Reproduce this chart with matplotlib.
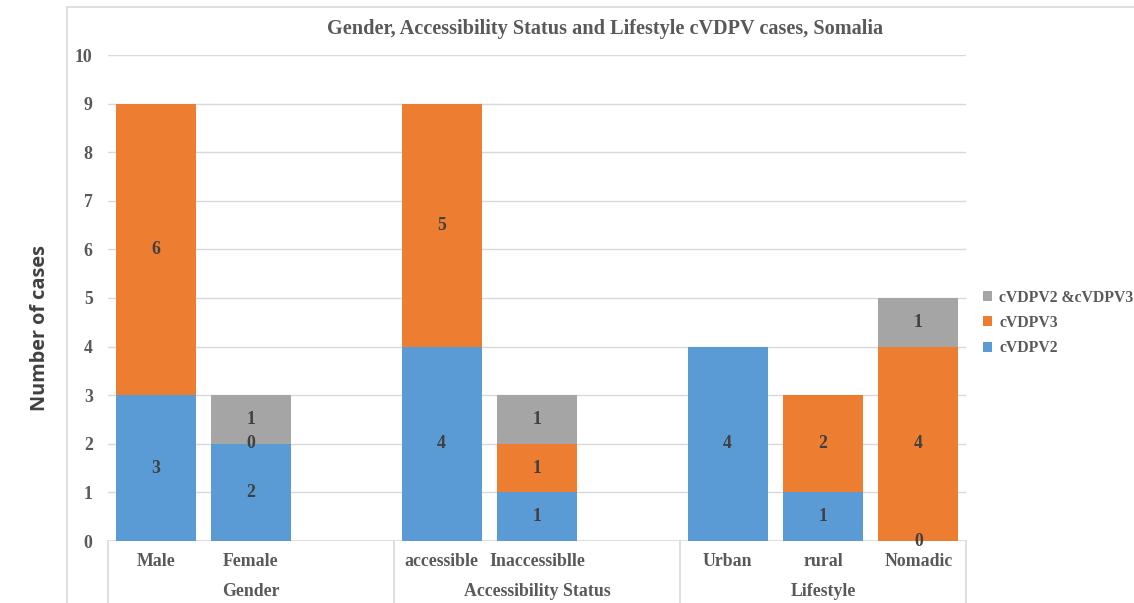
import matplotlib
matplotlib.use("Agg")
import matplotlib.pyplot as plt
from matplotlib.patches import Rectangle
from matplotlib.lines import Line2D
import matplotlib.transforms as mtrans
import numpy as np

# ---- data ----
groups = ["Gender", "Accessibility Status", "Lifestyle"]
categories = ["Male", "Female", "", "accessible", "Inaccessiblle", "", "Urban", "rural", "Nomadic"]
cvdpv2 = [3, 2, None, 4, 1, None, 4, 1, 0]
cvdpv3 = [6, 0, None, 5, 1, None, None, 2, 4]
cvdpv23 = [None, 1, None, None, 1, None, None, None, 1]
series_names = ["cVDPV2", "cVDPV3", "cVDPV2 &cVDPV3"]
colors = ["#5B9BD5", "#ED7D31", "#A5A5A5"]
title = "Gender, Accessibility Status and Lifestyle cVDPV cases, Somalia"
ylabel = "Number of cases"

W, H = 1134, 603
fig = plt.figure(figsize=(W / 100, H / 100), dpi=100)
fig.patch.set_facecolor("white")

serif = ["Liberation Serif", "DejaVu Serif"]
txtgray = "#595959"
labgray = "#404040"
fs = 12.8

# chart area border (light gray)
fig.add_artist(Rectangle((67 / W, -0.1), 1.2, (H - 7) / H + 0.1, transform=fig.transFigure,
                         fill=False, edgecolor="#d9d9d9", lw=1.2))

ax = fig.add_axes([108 / W, (H - 541) / H, (966 - 108) / W, (541 - 55) / H])
ax.set_xlim(-0.5, len(categories) - 0.5)
ax.set_ylim(0, 10)
for s in ax.spines.values():
    s.set_visible(False)
ax.set_yticks(range(0, 11))
ax.tick_params(axis="y", length=0, pad=11, labelsize=fs, labelcolor=txtgray)
for t in ax.get_yticklabels():
    t.set_fontfamily(serif)
    t.set_fontweight("bold")
ax.set_xticks([])
ax.yaxis.grid(True, color="#d9d9d9", lw=1)
ax.set_axisbelow(True)

x = np.arange(len(categories))
bw = 0.84
bottom = np.zeros(len(categories))
all_series = [cvdpv2, cvdpv3, cvdpv23]
handles = []
for vals, name, c in zip(all_series, series_names, colors):
    v = np.array([np.nan if a is None else a for a in vals], dtype=float)
    h = np.nan_to_num(v)
    bars = ax.bar(x, h, bw, bottom=bottom, color=c, label=name, zorder=2)
    handles.append(bars)
    for i in range(len(x)):
        if not np.isnan(v[i]):
            ax.text(x[i], bottom[i] + h[i] / 2, f"{int(v[i])}", ha="center", va="center",
                    fontsize=fs, fontweight="bold", family=serif, color=labgray, zorder=3)
    bottom = bottom + h

# x axis line and group separators
ax.axhline(0, color="#d9d9d9", lw=1.2, zorder=1)
trans = mtrans.blended_transform_factory(ax.transData, ax.transAxes)
for b in [-0.5, 2.5, 5.5, 8.5]:
    ax.add_line(Line2D([b, b], [0, -0.2], transform=trans, color="#d9d9d9", lw=1.2, clip_on=False))
for i, c in enumerate(categories):
    if c:
        ax.text(x[i], -21 / 486, c, transform=trans, ha="center", va="center",
                fontsize=fs, fontweight="bold", family=serif, color=txtgray)
for g, name in enumerate(groups):
    ax.text(g * 3 + 1, -51 / 486, name, transform=trans, ha="center", va="center",
            fontsize=fs, fontweight="bold", family=serif, color=txtgray)

fig.text(605 / W, (H - 29) / H, title, ha="center", va="center", fontsize=14.6,
         fontweight="bold", family=serif, color=txtgray)
fig.text(40 / W, (H - 328) / H, ylabel, ha="center", va="center", rotation=90,
         fontsize=14.3, fontweight="bold", family=["Open Sans", "DejaVu Sans"], color=labgray)

leg = fig.legend(handles[::-1], series_names[::-1], loc="center left",
                 bbox_to_anchor=(983 / W, (H - 323) / H), frameon=False,
                 handlelength=0.6, handleheight=0.6, handletextpad=0.45, labelspacing=0.6,
                 borderpad=0, borderaxespad=0,
                 prop={"family": serif, "weight": "bold", "size": 11.3})
for t in leg.get_texts():
    t.set_color(txtgray)

fig.savefig("out.png", dpi=100)
